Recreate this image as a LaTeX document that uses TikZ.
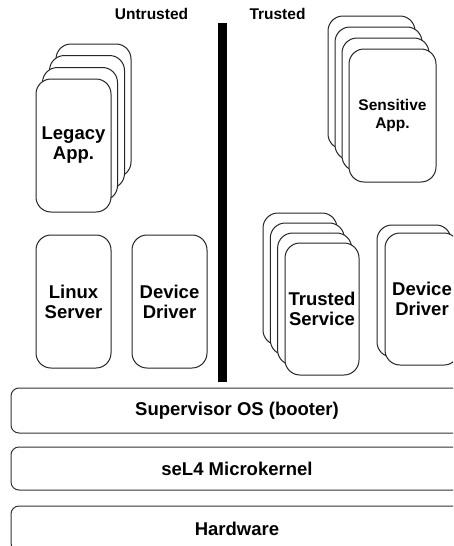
\documentclass[tikz,border=0pt]{standalone}
\usepackage{fontspec}
\setmainfont{Liberation Sans}
\tikzset{>=latex}
\tikzset{
  card/.style={draw=black!85, fill=white, line width=1pt, rounded corners=15pt,
    align=center, inner sep=0pt, font=\bfseries\fontsize{18.5}{20}\selectfont},
  smallcard/.style={card, font=\bfseries\fontsize{15.5}{17.5}\selectfont},
  layer/.style={draw=black!80, fill=white, line width=1pt, rounded corners=8pt,
    minimum width=452pt, inner sep=0pt, font=\bfseries\fontsize{18.5}{20}\selectfont},
  side/.style={font=\bfseries\fontsize{15.5}{18}\selectfont, inner sep=0pt}
}

\begin{document}
\begin{tikzpicture}[x=1pt, y=-1pt]
\useasboundingbox (0,0) rectangle (453,546);
\clip (0,0) rectangle (453,546);

\node[side] (untrusted) at (151.5,14) {Untrusted};
\node[side] (trusted) at (277.5,13.5) {Trusted};
\fill[black] (218,23) rectangle (227,382);

% untrusted side
\node[card, minimum width=75pt, minimum height=133pt] (legacy4) at (93.5,110.5) {};
\node[card, minimum width=75pt, minimum height=133pt] (legacy3) at (87,122) {};
\node[card, minimum width=75pt, minimum height=133pt] (legacy2) at (80,134) {};
\node[card, minimum width=75pt, minimum height=133pt] (legacy) at (73.5,145.5) {Legacy\\App.};

\node[card, minimum width=75pt, minimum height=133pt] (linux) at (73.5,301.5) {Linux\\Server};
\node[card, minimum width=75pt, minimum height=133pt] (udriver) at (169.5,301.5) {Device\\Driver};

% trusted side
\node[smallcard, minimum width=87pt, minimum height=133pt] (sens4) at (371.5,82.5) {};
\node[smallcard, minimum width=87pt, minimum height=133pt] (sens3) at (378.5,93.5) {};
\node[smallcard, minimum width=87pt, minimum height=133pt] (sens2) at (385.5,104.5) {};
\node[smallcard, minimum width=87pt, minimum height=133pt] (sens) at (392.5,115.5) {Sensitive\\App.};

\node[card, minimum width=74pt, minimum height=132pt] (tserv4) at (300,279) {};
\node[card, minimum width=74pt, minimum height=132pt] (tserv3) at (307.3,289) {};
\node[card, minimum width=74pt, minimum height=132pt] (tserv2) at (314.6,299) {};
\node[card, minimum width=74pt, minimum height=132pt] (tserv) at (322,309) {Trusted\\Service};

\node[card, minimum width=74pt, minimum height=132pt] (tdriver2) at (414,291) {};
\node[card, minimum width=74pt, minimum height=132pt] (tdriver) at (422,299) {Device\\Driver};

% layers
\node[layer, minimum height=45pt] (super) at (237,410.5) {Supervisor OS (booter)};
\node[layer, minimum height=43pt] (kernel) at (237,468.5) {seL4 Microkernel};
\node[layer, minimum height=45pt] (hw) at (237,528.5) {Hardware};
%\draw[help lines, step=10] (0,0) grid (453,546);
\end{tikzpicture}
\end{document}
